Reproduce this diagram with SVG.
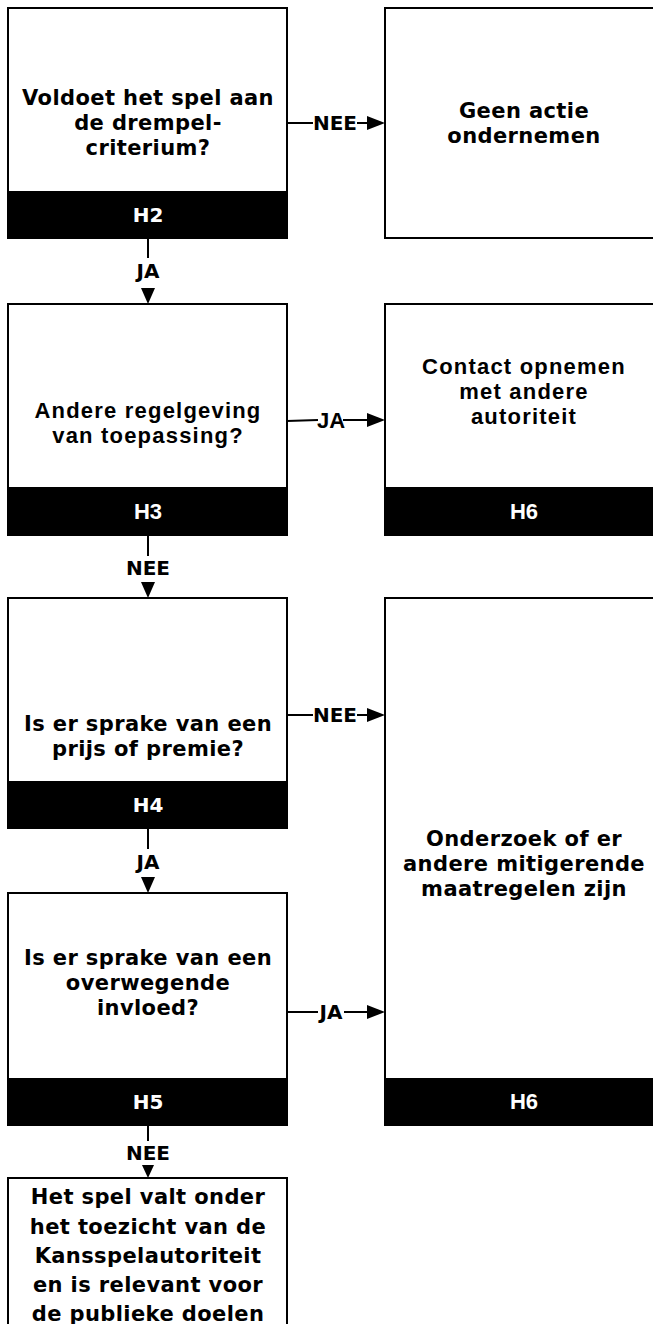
<svg xmlns="http://www.w3.org/2000/svg" width="653" height="1324" viewBox="0 0 653 1324">
<defs>
<style>
.box{fill:#fff;stroke:#000;stroke-width:2}
.bar{fill:#000}
.t{font-family:"DejaVu Sans",Verdana,sans-serif;font-weight:bold;font-size:21px;fill:#000;text-anchor:middle;letter-spacing:0.4px}
.s{font-family:"Liberation Sans",Arial,sans-serif;font-weight:bold;font-size:22px;fill:#000;text-anchor:middle;letter-spacing:1.2px}
.h{font-family:"DejaVu Sans",Verdana,sans-serif;font-weight:bold;font-size:20px;fill:#fff;text-anchor:middle}
.hs{font-family:"Liberation Sans",Arial,sans-serif;font-weight:bold;font-size:22px;fill:#fff;text-anchor:middle}
.l{font-family:"DejaVu Sans",Verdana,sans-serif;font-weight:bold;font-size:20px;fill:#000;text-anchor:middle}
.ls{font-family:"Liberation Sans",Arial,sans-serif;font-weight:bold;font-size:22px;fill:#000;text-anchor:middle}
.c{fill:none;stroke:#000;stroke-width:2}
.a{fill:#000}
</style>
</defs>
<rect width="653" height="1324" fill="#fff"/>

<g id="n-h2">
<rect class="box" x="8" y="8" width="279" height="230"/>
<rect class="bar" x="8" y="191" width="279" height="47"/>
<text class="t" x="148" y="105">Voldoet het spel aan</text>
<text class="t" x="148" y="130">de drempel-</text>
<text class="t" x="148" y="155">criterium?</text>
<text class="h" x="148" y="222">H2</text>
</g>

<g id="n-geen">
<rect class="box" x="385" y="8" width="290" height="230"/>
<text class="t" x="524" y="118">Geen actie</text>
<text class="t" x="524" y="143">ondernemen</text>
</g>

<g id="n-h3">
<rect class="box" x="8" y="304" width="279" height="231"/>
<rect class="bar" x="8" y="487" width="279" height="48"/>
<text class="s" x="148" y="418">Andere regelgeving</text>
<text class="s" x="148" y="443">van toepassing?</text>
<text class="hs" x="148" y="519">H3</text>
</g>

<g id="n-contact">
<rect class="box" x="385" y="304" width="290" height="231"/>
<rect class="bar" x="385" y="487" width="290" height="48"/>
<text class="s" x="524" y="374">Contact opnemen</text>
<text class="s" x="524" y="399">met andere</text>
<text class="s" x="524" y="424">autoriteit</text>
<text class="hs" x="524" y="519">H6</text>
</g>

<g id="n-h4">
<rect class="box" x="8" y="598" width="279" height="230"/>
<rect class="bar" x="8" y="781" width="279" height="47"/>
<text class="t" x="148" y="731">Is er sprake van een</text>
<text class="t" x="148" y="756">prijs of premie?</text>
<text class="h" x="148" y="812">H4</text>
</g>

<g id="n-onderzoek">
<rect class="box" x="385" y="598" width="290" height="527"/>
<rect class="bar" x="385" y="1078" width="290" height="47"/>
<text class="t" x="524" y="846">Onderzoek of er</text>
<text class="t" x="524" y="871">andere mitigerende</text>
<text class="t" x="524" y="896">maatregelen zijn</text>
<text class="hs" x="524" y="1109">H6</text>
</g>

<g id="n-h5">
<rect class="box" x="8" y="893" width="279" height="232"/>
<rect class="bar" x="8" y="1078" width="279" height="47"/>
<text class="t" x="148" y="965">Is er sprake van een</text>
<text class="t" x="148" y="990">overwegende</text>
<text class="t" x="148" y="1015">invloed?</text>
<text class="h" x="148" y="1109">H5</text>
</g>

<g id="n-eind">
<rect class="box" x="8" y="1178" width="279" height="160"/>
<text class="t" x="148" y="1204">Het spel valt onder</text>
<text class="t" x="148" y="1234">het toezicht van de</text>
<text class="t" x="148" y="1263">Kansspelautoriteit</text>
<text class="t" x="148" y="1292">en is relevant voor</text>
<text class="t" x="148" y="1321">de publieke doelen</text>
</g>

<g id="connectors">
<line class="c" x1="287" y1="123" x2="313" y2="123"/>
<text class="l" x="335" y="130">NEE</text>
<line class="c" x1="357" y1="123" x2="368" y2="123"/>
<polygon class="a" points="367,116 385,123 367,130"/>

<line class="c" x1="148" y1="238" x2="148" y2="258"/>
<text class="l" x="148" y="278">JA</text>
<polygon class="a" points="141,288 155,288 148,304"/>

<line class="c" x1="287" y1="421" x2="318" y2="420"/>
<text class="ls" x="331" y="428">JA</text>
<line class="c" x1="343" y1="420" x2="368" y2="420"/>
<polygon class="a" points="367,413 385,420 367,427"/>

<line class="c" x1="148" y1="535" x2="148" y2="556"/>
<text class="l" x="148" y="575">NEE</text>
<polygon class="a" points="141,582 155,582 148,598"/>

<line class="c" x1="287" y1="715" x2="313" y2="715"/>
<text class="l" x="335" y="722">NEE</text>
<line class="c" x1="357" y1="715" x2="368" y2="715"/>
<polygon class="a" points="367,708 385,715 367,722"/>

<line class="c" x1="148" y1="828" x2="148" y2="849"/>
<text class="l" x="148" y="869">JA</text>
<polygon class="a" points="141,877 155,877 148,893"/>

<line class="c" x1="287" y1="1012" x2="318" y2="1012"/>
<text class="l" x="331" y="1019">JA</text>
<line class="c" x1="344" y1="1012" x2="368" y2="1012"/>
<polygon class="a" points="367,1005 385,1012 367,1019"/>

<line class="c" x1="148" y1="1125" x2="148" y2="1141"/>
<text class="l" x="148" y="1160">NEE</text>
<polygon class="a" points="142,1165 154,1165 148,1178"/>
</g>
</svg>
